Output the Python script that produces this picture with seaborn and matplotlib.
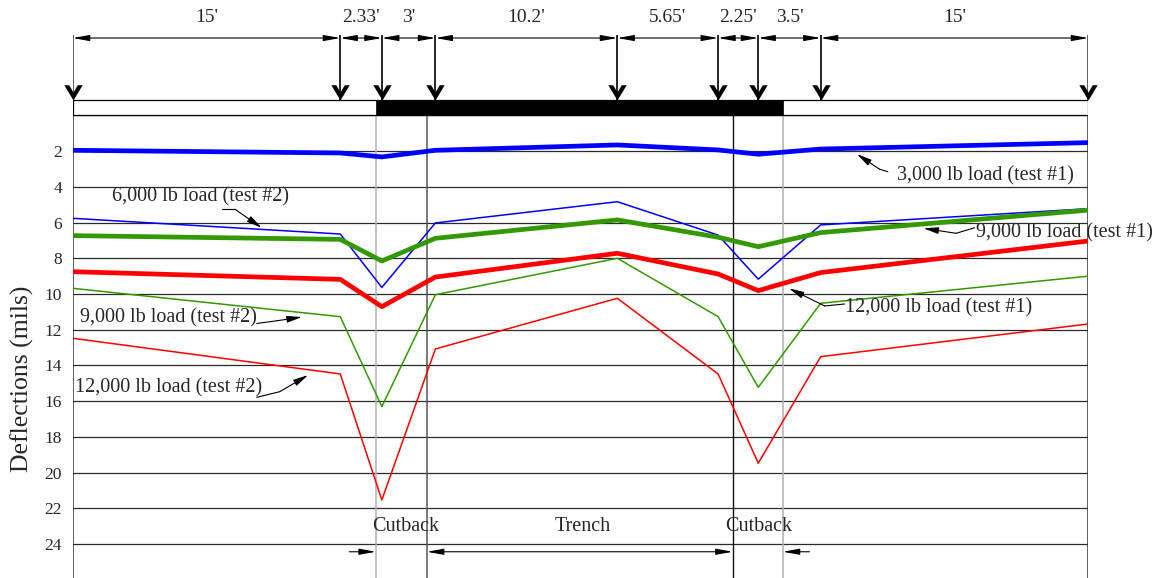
import numpy as np
import pandas as pd
import matplotlib
matplotlib.use("Agg")
import matplotlib.pyplot as plt
from matplotlib.patches import Rectangle
from matplotlib.path import Path
import seaborn as sns

# Span lengths between load stations (ft) and their dimension labels
SPANS = [15, 2.33, 3, 10.2, 5.65, 2.25, 3.5, 15]
SPAN_LABELS = ["15'", "2.33'", "3'", "10.2'", "5.65'", "2.25'", "3.5'", "15'"]

# Deflections (mils) measured at each load station
DEFL_3K_T1 = [1.95, 2.10, 2.32, 1.95, 1.65, 1.93, 2.17, 1.88, 1.52]
DEFL_6K_T2 = [5.76, 6.64, 9.63, 6.02, 4.83, 6.70, 9.17, 6.13, 5.22]
DEFL_9K_T1 = [6.73, 6.94, 8.15, 6.88, 5.85, 6.82, 7.35, 6.56, 5.30]
DEFL_12K_T1 = [8.75, 9.18, 10.71, 9.05, 7.72, 8.88, 9.81, 8.80, 7.03]
DEFL_9K_T2 = [9.68, 11.27, 16.31, 10.04, 8.00, 11.27, 15.23, 10.52, 9.00]
DEFL_12K_T2 = [12.48, 14.48, 21.54, 13.08, 10.24, 14.48, 19.48, 13.51, 11.68]

SERIES_NAMES = ["6,000 lb load (test #2)", "9,000 lb load (test #2)",
                "12,000 lb load (test #2)", "3,000 lb load (test #1)",
                "9,000 lb load (test #1)", "12,000 lb load (test #1)"]
SERIES_VALUES = [DEFL_6K_T2, DEFL_9K_T2, DEFL_12K_T2,
                 DEFL_3K_T1, DEFL_9K_T1, DEFL_12K_T1]
SERIES_COLORS = ["#0000ff", "#339900", "#ff0000", "#0000ff", "#339900", "#ff0000"]
SERIES_WIDTHS = [1.1, 1.1, 1.1, 3.4, 3.4, 3.4]

Y_TICKS = list(range(2, 25, 2))

# Pavement zones along the section (ft)
CUTBACK_LEFT = (17.0, 19.85)
TRENCH = (19.85, 37.0)
CUTBACK_RIGHT = (37.0, 39.8)
ZONE_LABELS = ["Cutback", "Trench", "Cutback"]

stations = np.concatenate([[0.0], np.cumsum(SPANS)])
x_end = stations[-1]

df = pd.DataFrame({
    "station": np.tile(stations, len(SERIES_NAMES)),
    "deflection": np.concatenate(SERIES_VALUES),
    "series": np.repeat(SERIES_NAMES, len(stations)),
})

sns.set_style("white")
plt.rcParams["font.family"] = ["Liberation Serif", "DejaVu Serif"]

W, H = 1162, 578
fig = plt.figure(figsize=(W / 100, H / 100), dpi=100)
left_px, right_px = 72.7, 1088.3
ax = fig.add_axes([left_px / W, 0, (right_px - left_px) / W, 1])

Y_TOP, Y_BOTTOM = -6.47, 25.91
BOX_TOP = -0.85
DIM_Y = -4.34
STEM_TOP = -4.51
LABEL_Y = -5.5
TXT = 14.5

# grid of deflection levels
for v in [0] + Y_TICKS:
    ax.axhline(v, color="#2a2a2a", lw=0.9, zorder=1)

# zone boundaries
ax.vlines([CUTBACK_LEFT[0], CUTBACK_RIGHT[1]], 0, Y_BOTTOM, color="#b0b0b0", lw=1.1, zorder=1.5)
ax.vlines([TRENCH[0]], 0, Y_BOTTOM, color="#555555", lw=1.1, zorder=1.5)
ax.vlines([TRENCH[1]], 0, Y_BOTTOM, color="#111111", lw=1.0, zorder=1.5)
ax.vlines([0, x_end], STEM_TOP, Y_BOTTOM, color="#333333", lw=1.1, zorder=1.5)

# pavement strip with the cut section in black
ax.add_patch(Rectangle((0, BOX_TOP), x_end, -BOX_TOP, facecolor="white",
                       edgecolor="black", lw=0.9, zorder=2))
ax.add_patch(Rectangle((CUTBACK_LEFT[0], BOX_TOP), CUTBACK_RIGHT[1] - CUTBACK_LEFT[0],
                       -BOX_TOP, facecolor="black", edgecolor="black", lw=0.5, zorder=2.1))

# deflection profiles
for name, color, lw in zip(SERIES_NAMES, SERIES_COLORS, SERIES_WIDTHS):
    sns.lineplot(data=df[df["series"] == name], x="station", y="deflection",
                 color=color, lw=lw, sort=False, estimator=None, ax=ax,
                 legend=False, zorder=3 if lw < 2 else 4)

# load stems and chevron heads
ax.vlines(stations[1:-1], STEM_TOP, BOX_TOP, color="black", lw=1.2, zorder=5)
chevron = Path([(-9, 15), (0, 0), (9, 15), (4.2, 15), (0, 7.8), (-4.2, 15), (-9, 15)],
               [Path.MOVETO] + [Path.LINETO] * 5 + [Path.CLOSEPOLY])
ax.plot(stations, [BOX_TOP] * len(stations), ls="none", marker=chevron, ms=22,
        mfc="black", mec="black", mew=0, zorder=6, clip_on=False)

# dimension chain
dim_arrow = dict(arrowstyle="<|-|>,head_length=10,head_width=1.8", mutation_scale=1,
                 shrinkA=0, shrinkB=0, lw=0.8, color="black")
for a, b, lab in zip(stations[:-1], stations[1:], SPAN_LABELS):
    ax.annotate("", xy=(a, DIM_Y), xytext=(b, DIM_Y), arrowprops=dim_arrow,
                annotation_clip=False, zorder=5)
    ax.text((a + b) / 2, LABEL_Y, lab, ha="center", va="center", fontsize=14, zorder=5)

# series callouts: text, tail, kink, head
lead = dict(arrowstyle="-|>,head_length=9,head_width=2", mutation_scale=1,
            shrinkA=0, shrinkB=0, lw=0.8, color="black")
callouts = [
    ("6,000 lb load (test #2)", (7.19, 4.55), (8.35, 5.25), (9.09, 5.25), (10.59, 6.29)),
    ("9,000 lb load (test #2)", (5.39, 11.31), (10.32, 11.65), (11.45, 11.5), (12.85, 11.29)),
    ("12,000 lb load (test #2)", (5.37, 15.28), (10.32, 15.79), (11.61, 15.47), (13.2, 14.54)),
    ("3,000 lb load (test #1)", (51.19, 3.37), (45.69, 3.15), (45.23, 3.01), (43.96, 2.16)),
    ("9,000 lb load (test #1)", (55.61, 6.6), (50.55, 6.29), (49.52, 6.6), (47.69, 6.32)),
    ("12,000 lb load (test #1)", (48.55, 10.8), (43.27, 10.56), (42.15, 10.67), (40.15, 9.68)),
]
for label, tpos, tail, kink, head in callouts:
    ax.text(*tpos, label, ha="center", va="center", fontsize=TXT, zorder=7)
    ax.plot([tail[0], kink[0]], [tail[1], kink[1]], color="black", lw=0.8, zorder=7)
    ax.annotate("", xy=head, xytext=kink, arrowprops=lead, zorder=7)

# zone labels and extents along the bottom
ZONE_Y = 23.05
ARROW_Y = 24.44
zone_centers = [18.64, 28.59, 38.45]
for xc, lab in zip(zone_centers, ZONE_LABELS):
    ax.text(xc, ZONE_Y, lab, ha="center", va="center", fontsize=TXT, zorder=7)
zone_arrow = dict(arrowstyle="-|>,head_length=10,head_width=1.8", mutation_scale=1,
                  shrinkA=0, shrinkB=0, lw=0.8, color="black")
ax.annotate("", xy=(CUTBACK_LEFT[0], ARROW_Y), xytext=(CUTBACK_LEFT[0] - 1.5, ARROW_Y),
            arrowprops=zone_arrow)
ax.annotate("", xy=(TRENCH[0], ARROW_Y), xytext=(TRENCH[1], ARROW_Y),
            arrowprops=dict(dim_arrow))
ax.annotate("", xy=(CUTBACK_RIGHT[1], ARROW_Y), xytext=(CUTBACK_RIGHT[1] + 1.5, ARROW_Y),
            arrowprops=zone_arrow)

ax.set_xlim(0, x_end)
ax.set_ylim(Y_BOTTOM, Y_TOP)
ax.set_yticks(Y_TICKS)
ax.set_yticklabels([str(t) for t in Y_TICKS])
ax.set_xticks([])
ax.tick_params(axis="y", length=0, pad=7.7, labelsize=12.5)
ax.set_xlabel("")
ax.set_ylabel("")
ax.text(-0.0499, 0.344, "Deflections (mils)", transform=ax.transAxes, rotation=90,
        ha="center", va="center", fontsize=18.5)
for s in ax.spines.values():
    s.set_visible(False)
ax.grid(False)

fig.savefig("out.png", dpi=100)
